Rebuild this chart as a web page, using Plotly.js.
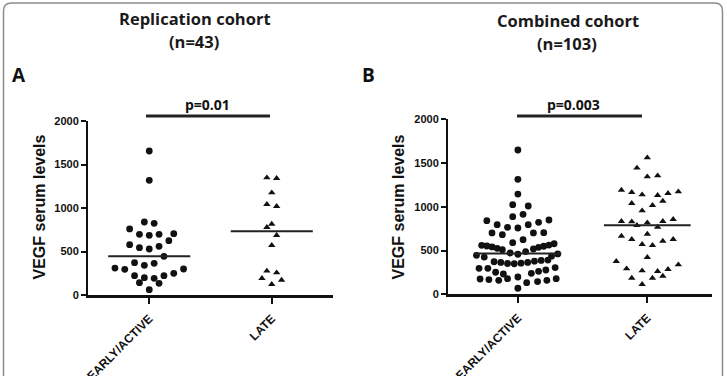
<!DOCTYPE html>
<html>
<head>
<meta charset="utf-8">
<script src="https://cdn.plot.ly/plotly-3.0.1.min.js"></script>
<style>
  html, body { margin: 0; padding: 0; background: #ffffff; }
  #chart { width: 727px; height: 376px; }
</style>
</head>
<body>
<div id="chart"></div>
<script>
// Groups on the x axis
const groups = ["EARLY/ACTIVE", "LATE"];
const yTicks = [0, 500, 1000, 1500, 2000];

// Replication cohort (n=43): VEGF serum levels and swarm slot of each point
const repEarly = [1655, 1318, 839, 824, 759, 697, 686, 697, 705, 579, 544, 529, 559, 625, 444,
  372, 341, 364, 310, 295, 299, 222, 199, 192, 222, 249, 142, 134, 61];
const repEarlySlot = [0, 0, -1, 1, -4, -2, 0, 2, 5, -4, -2, 0, 2, 4, 3,
  -3, -1, 1, -7, -5, 7, -3, -1, 1, 3, 5, -2, 2, 0];
const repLate = [1348, 1341, 1176, 1042, 1019, 816, 778, 686, 571, 276, 256, 192, 172, 123];
const repLateSlot = [-1, 1, 0, -1, 1, 0, -1, 1, 0, -1, 1, -2, 2, 0];

// Combined cohort (n=103)
const comEarly = [1649, 1314, 1146, 1024, 1009, 914, 887, 849, 841, 823, 796, 796, 766, 758, 704, 701, 701, 681, 624, 590,
  578, 563, 560, 552, 549, 541, 537, 526, 518, 510, 488, 472,
  446, 426, 436, 461, 458,
  372, 364, 352, 349, 356, 364, 379, 387, 391,
  297, 297, 252, 232, 240, 263, 278, 305,
  175, 168, 160, 179, 198, 133, 145, 160, 179,
  69];
const comEarlySlot = [0, 0, 0, -1, 2, 1, -1, 6, -6, 4, -4, 2, -2, 0, 5, -5, 3, -3, 1, -1,
  7, 6, -7, -6, 5, -5, 4, -4, 3, -3, 1.5, -1.5,
  -8, -6.5, 6.5, 7.7, 0,
  -4.6, -3.3, -2, -0.7, 0.6, 1.9, 3.2, 4.5, 5.8,
  -7.5, -5.8, -4.3, -2.8, 2.6, 4, 5.4, 7.2,
  -7.3, -5.6, -3.7, -2, 0, 1.7, 3.8, 5.6, 7.4,
  0];
const comLate = [1561, 1444, 1344, 1356, 1192, 1166, 1139, 1131, 1154, 1173,
  1040, 1017, 1066, 956,
  834, 830, 789, 819, 769, 834, 857,
  666, 629, 689, 571, 560, 609, 629,
  423, 377, 338, 293, 270, 263, 286,
  186, 186, 209, 114];
const comLateSlot = [0, -2, 0, 2, -5, -3, -1, 2, 4, 6,
  -3, 1, 3, -1,
  -5, -3, -2, 0, 2, 3, 5,
  -5, -3, 0, -1, 1, 3, 5,
  0, -6, 6, -4, -1, 2, 4,
  -3, 1, 3, -1];

// Titles and test results
const panelTitles = [["Replication cohort", "(n=43)"], ["Combined cohort", "(n=103)"]];
const panelLetters = ["A", "B"];
const pValues = ["p=0.01", "p=0.003"];
const yTitle = "VEGF serum levels";

// ---- drawing ----
const W = 727, H = 376;
const px = v => v / W;          // pixel column -> paper x
const py = v => 1 - v / H;      // pixel row -> paper y
const SLOT = 0.04;              // width of one swarm slot in category units
const HALF = 0.335;             // half width of the median bar
const INK = "#111111";
const tickFamily = '"Liberation Sans", Arial, Helvetica, sans-serif';
const titleFamily = '"Open Sans", Lato, "Liberation Sans", sans-serif';

function median(a) {
  const s = [...a].sort((p, q) => p - q);
  const n = s.length;
  return n % 2 ? s[(n - 1) / 2] : (s[n / 2 - 1] + s[n / 2]) / 2;
}

function swarm(values, slots, g, symbol, size, xa, ya) {
  return {
    type: "scatter", mode: "markers", xaxis: xa, yaxis: ya,
    x: values.map((v, i) => g + slots[i] * SLOT), y: values,
    marker: { symbol: symbol, size: size, color: INK, line: { width: 0 } },
    cliponaxis: false, hoverinfo: "y", showlegend: false
  };
}

function medianBar(values, g, xa, ya) {
  const m = median(values);
  return {
    type: "scatter", mode: "lines", xaxis: xa, yaxis: ya,
    x: [g - HALF, g + HALF], y: [m, m],
    line: { color: "#222222", width: 2 }, cliponaxis: false,
    hoverinfo: "skip", showlegend: false
  };
}

const data = [
  swarm(repEarly, repEarlySlot, 0, "circle", 6.8, "x", "y"),
  swarm(repLate, repLateSlot, 1, "triangle-up", 6.5, "x", "y"),
  medianBar(repEarly, 0, "x", "y"),
  medianBar(repLate, 1, "x", "y"),
  swarm(comEarly, comEarlySlot, 0, "circle", 6.8, "x2", "y2"),
  swarm(comLate, comLateSlot, 1, "triangle-up", 6.5, "x2", "y2"),
  medianBar(comEarly, 0, "x2", "y2"),
  medianBar(comLate, 1, "x2", "y2")
];

function xAxis(domain, range, anchor) {
  return {
    domain: domain, range: range, anchor: anchor,
    tickmode: "array", tickvals: [0, 1], ticktext: groups, tickangle: -45,
    ticks: "outside", ticklen: 6, tickwidth: 2, tickcolor: INK, ticklabelstandoff: 3,
    showline: true, linewidth: 3, linecolor: INK,
    showgrid: false, zeroline: false, fixedrange: true,
    tickfont: { family: tickFamily, size: 12, color: INK, weight: 700 }
  };
}
function yAxis(domain, anchor) {
  return {
    domain: domain, range: [0, 2000], anchor: anchor,
    tickmode: "array", tickvals: yTicks, ticktext: yTicks.map(String),
    ticks: "outside", ticklen: 5, tickwidth: 2, tickcolor: INK,
    showline: true, linewidth: 2, linecolor: INK,
    showgrid: false, zeroline: false, fixedrange: true,
    tickfont: { family: tickFamily, size: 11, color: INK, weight: 700 }
  };
}

const centres = [195, 568];
const annotations = [];
panelTitles.forEach((t, i) => {
  annotations.push({ text: t[0], x: px(centres[i]), y: py(19 + i), xref: "paper", yref: "paper",
    showarrow: false, xanchor: "center", yanchor: "middle",
    font: { family: titleFamily, size: 16.5, color: "#1a1a1a", weight: 700 } });
  annotations.push({ text: t[1], x: px(centres[i] - 1), y: py(41 + i * 2), xref: "paper", yref: "paper",
    showarrow: false, xanchor: "center", yanchor: "middle",
    font: { family: titleFamily, size: 16.5, color: "#1a1a1a", weight: 700 } });
});
[18.5, 368].forEach((x, i) => annotations.push({
  text: panelLetters[i], x: px(x), y: py(75), xref: "paper", yref: "paper",
  showarrow: false, xanchor: "center", yanchor: "middle",
  font: { family: titleFamily, size: 19, color: "#111111", weight: 700 } }));
[207.5, 573].forEach((x, i) => annotations.push({
  text: pValues[i], x: px(x), y: py(104), xref: "paper", yref: "paper",
  showarrow: false, xanchor: "center", yanchor: "middle",
  font: { family: titleFamily, size: 14, color: "#111111", weight: 700 } }));
[[39, 207.5], [398.5, 207]].forEach(p => annotations.push({
  text: yTitle, x: px(p[0]), y: py(p[1]), xref: "paper", yref: "paper",
  showarrow: false, xanchor: "center", yanchor: "middle", textangle: -90,
  font: { family: tickFamily, size: 16, color: "#111111", weight: 700 } }));

// Significance brackets and the rounded outer frame
const shapes = [
  { type: "line", xref: "paper", yref: "paper", x0: px(146), x1: px(270), y0: py(116), y1: py(116),
    line: { color: "#222222", width: 3 } },
  { type: "line", xref: "paper", yref: "paper", x0: px(517), x1: px(642), y0: py(116), y1: py(116),
    line: { color: "#222222", width: 3 } }
];
const r = 8, L = 3.5, R = 722.5, T = 3, B = 390;
shapes.push({
  type: "path", xref: "paper", yref: "paper",
  path: `M ${px(L)},${py(B)} L ${px(L)},${py(T + r)} Q ${px(L)},${py(T)} ${px(L + r)},${py(T)} ` +
        `L ${px(R - r)},${py(T)} Q ${px(R)},${py(T)} ${px(R)},${py(T + r)} L ${px(R)},${py(B)}`,
  line: { color: "#8c8c8c", width: 1.5 }
});

const layout = {
  width: W, height: H,
  margin: { l: 0, r: 0, t: 0, b: 0, pad: 0 },
  paper_bgcolor: "#ffffff", plot_bgcolor: "rgba(0,0,0,0)",
  showlegend: false,
  xaxis: xAxis([px(88), px(333)], [-0.5, 1.5], "y"),
  yaxis: yAxis([py(295), py(121)], "x"),
  xaxis2: xAxis([px(448), px(712)], [-0.54, 1.5], "y2"),
  yaxis2: yAxis([py(294.3), py(119.3)], "x2"),
  annotations: annotations,
  shapes: shapes
};

Plotly.newPlot("chart", data, layout, { displayModeBar: false, staticPlot: true });
</script>
</body>
</html>
